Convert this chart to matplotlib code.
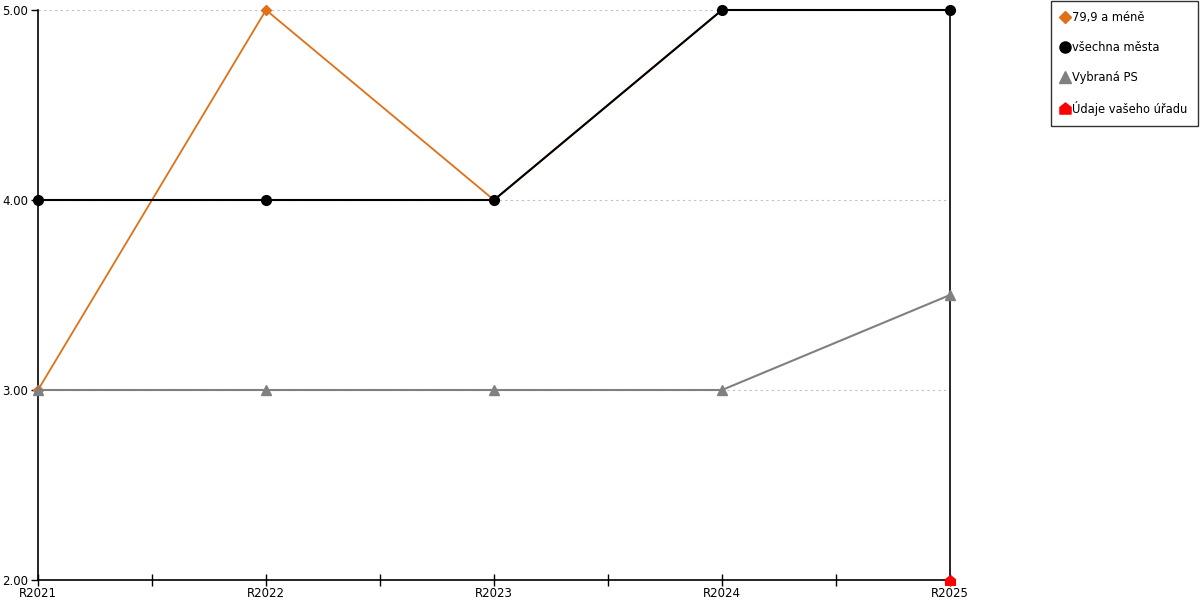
import numpy as np
import matplotlib
matplotlib.use("Agg")
import matplotlib.pyplot as plt
from matplotlib.path import Path
from matplotlib.lines import Line2D

categories = ["R2021", "R2022", "R2023", "R2024", "R2025"]
orange_vals = [3.0, 5.0, 4.0, 5.0, 5.0]
black_vals = [4.0, 4.0, 4.0, 5.0, 5.0]
gray_vals = [3.0, 3.0, 3.0, 3.0, 3.5]
red_vals = [np.nan, np.nan, np.nan, np.nan, 2.0]
labels = ["79,9 a méně", "všechna města", "Vybraná PS", "Údaje vašeho úřadu"]
yticks = [2.0, 3.0, 4.0, 5.0]

OR, BK, GR, RD = "#e07018", "#000000", "#808080", "#ff0000"

# house-shaped marker (triangle roof on a square)
house = Path([(-1, -1), (1, -1), (1, 0.2), (0, 1), (-1, 0.2), (-1, -1)],
             [Path.MOVETO, Path.LINETO, Path.LINETO, Path.LINETO, Path.LINETO, Path.CLOSEPOLY])

plt.rcParams["font.family"] = ["DejaVu Sans"]
fig = plt.figure(figsize=(12, 6), dpi=100)
ax = fig.add_axes([38 / 1200, 20 / 600, 912 / 1200, 570 / 600])
x = np.arange(len(categories))

ax.plot(x, orange_vals, color=OR, lw=1.3, marker="D", ms=5, zorder=3, clip_on=False)
ax.plot(x, black_vals, color=BK, lw=1.5, marker="o", ms=7, zorder=4, clip_on=False)
ax.plot(x, gray_vals, color=GR, lw=1.5, marker="^", ms=7, zorder=3, clip_on=False)
ax.plot(x, red_vals, color=RD, lw=1.5, marker=house, ms=7, zorder=5, clip_on=False)

ax.set_xlim(0, len(categories) - 1)
ax.set_ylim(2, 5)
ax.set_yticks(yticks)
ax.set_yticklabels([f"{v:.2f}" for v in yticks], fontsize=8.5)
ax.set_xticks(x)
ax.set_xticklabels(categories, fontsize=8.5)
ax.set_xticks(x[:-1] + 0.5, minor=True)
ax.tick_params(axis="x", which="both", direction="inout", length=8, width=1, pad=1)
ax.tick_params(axis="y", direction="out", length=5, width=1, pad=2)
for yv in yticks[1:]:
    ax.axhline(yv, color="#c0c0c0", lw=0.8, ls=(0, (2, 3)), zorder=1)

ax.spines["top"].set_visible(False)
for s in ("left", "bottom", "right"):
    ax.spines[s].set_linewidth(1.2)
    ax.spines[s].set_color("black")

handles = [
    Line2D([], [], color=OR, marker="D", ls="none", ms=6),
    Line2D([], [], color=BK, marker="o", ls="none", ms=8),
    Line2D([], [], color=GR, marker="^", ls="none", ms=8),
    Line2D([], [], color=RD, marker=house, ls="none", ms=8),
]
leg = fig.legend(handles, labels, loc="upper right",
                 bbox_to_anchor=(1198 / 1200, 1 - 1 / 600),
                 fontsize=8.3, frameon=True, fancybox=False, edgecolor="black",
                 handlelength=0.6, handletextpad=0.35, labelspacing=1.45,
                 borderpad=0.9, borderaxespad=0)
leg.get_frame().set_linewidth(1)

fig.savefig("out.png", dpi=100)
